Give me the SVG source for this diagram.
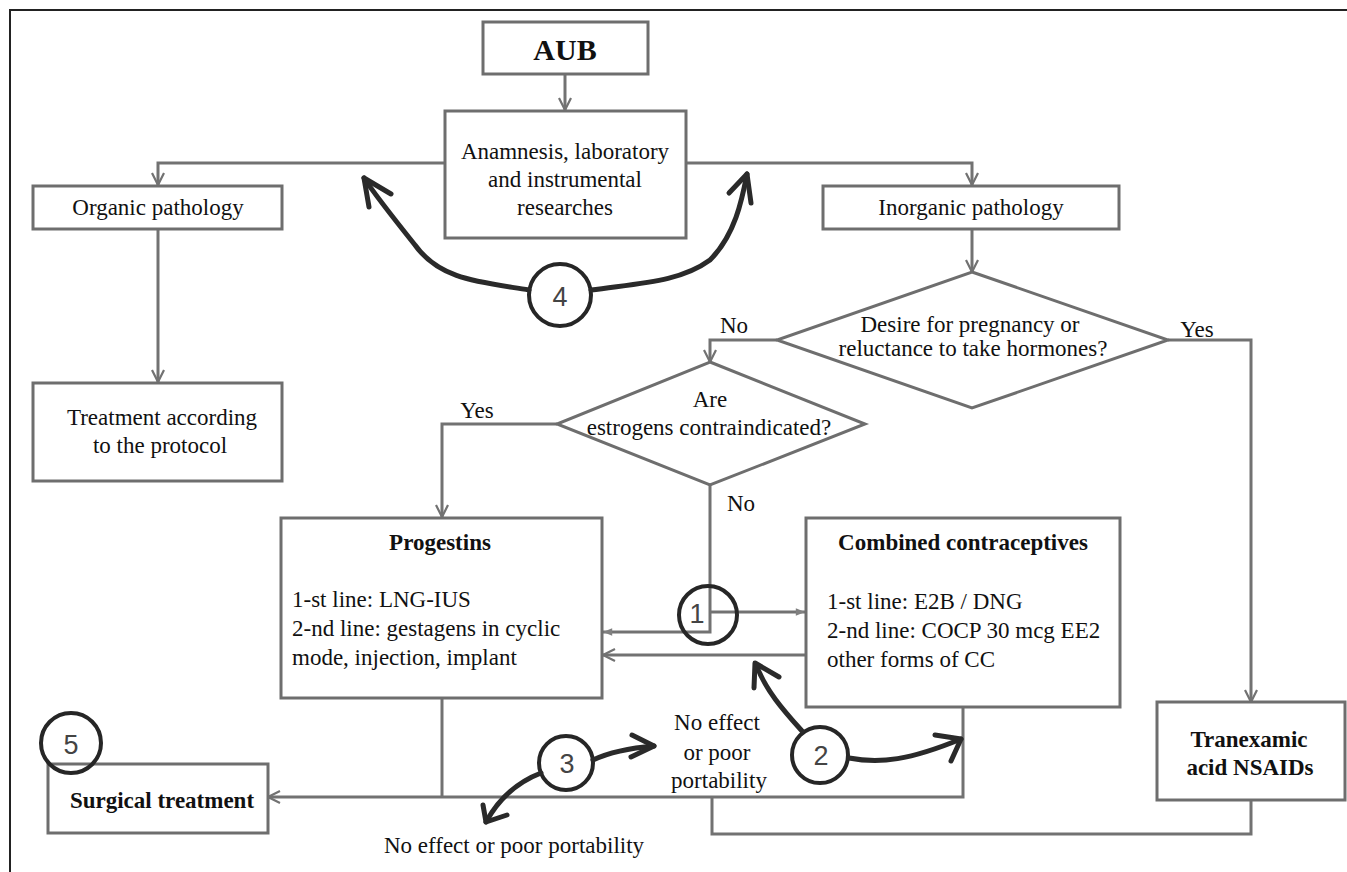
<svg xmlns="http://www.w3.org/2000/svg" width="1347" height="872" viewBox="0 0 1347 872">
<defs>
<style>
.box{fill:#fff;stroke:#6e6e6e;stroke-width:3}
.dia{fill:none;stroke:#6e6e6e;stroke-width:3}
.con{fill:none;stroke:#727272;stroke-width:3}
.t{font-family:"Liberation Serif","Times New Roman",serif;font-size:23px;fill:#111}
.c{text-anchor:middle}
.b{font-weight:bold}
.circ{fill:none;stroke:#262626;stroke-width:4}
.num{font-family:"Liberation Sans",Arial,sans-serif;font-size:27px;fill:#444;text-anchor:middle}
.curve{fill:none;stroke:#2a2a2a;stroke-width:5;stroke-linecap:round;stroke-linejoin:round}
</style>
<marker id="arr" viewBox="0 0 14 14" refX="13" refY="7" markerWidth="14" markerHeight="14" markerUnits="userSpaceOnUse" orient="auto">
<path d="M1,1 L13,7 L1,13" fill="none" stroke="#727272" stroke-width="2.2"/>
</marker>
<marker id="tri" viewBox="0 0 12 12" refX="11" refY="6" markerWidth="11" markerHeight="11" markerUnits="userSpaceOnUse" orient="auto">
<path d="M1,2 L11,6 L1,10 Z" fill="#808080"/>
</marker>
</defs>
<rect x="0" y="0" width="1347" height="872" fill="#fff"/>
<path d="M10,872 V10 H1347" fill="none" stroke="#222" stroke-width="2"/>

<g id="connectors">
<path class="con" d="M565,74 V110" marker-end="url(#arr)"/>
<path class="con" d="M445,163 H158 V185" marker-end="url(#arr)"/>
<path class="con" d="M686,163 H972 V185" marker-end="url(#arr)"/>
<path class="con" d="M158,229 V382" marker-end="url(#arr)"/>
<path class="con" d="M972,229 V272" marker-end="url(#arr)"/>
<path class="con" d="M777,340 H710 V362" marker-end="url(#arr)"/>
<path class="con" d="M1168,340 H1251 V702" marker-end="url(#arr)"/>
<path class="con" d="M557,424 H442 V517" marker-end="url(#arr)"/>
<path class="con" d="M710,485 V632 H603" marker-end="url(#tri)"/>
<path class="con" d="M710,612 H805" marker-end="url(#tri)"/>
<path class="con" d="M805,655 H603" marker-end="url(#arr)"/>
<path class="con" d="M442,698 V797"/>
<path class="con" d="M963,707 V797 H268" marker-end="url(#arr)"/>
<path class="con" d="M712,797 V834 H1251 V800"/>
</g>

<g id="aub"><rect class="box" x="483" y="22" width="165" height="52"/>
<text class="t c b" x="565" y="60" style="font-size:30px">AUB</text></g>

<g id="anamnesis"><rect class="box" x="445" y="111" width="241" height="127"/>
<text class="t c" x="565" y="159">Anamnesis, laboratory</text>
<text class="t c" x="565" y="187">and instrumental</text>
<text class="t c" x="565" y="215">researches</text></g>

<g id="organic"><rect class="box" x="33" y="186" width="249" height="43"/>
<text class="t c" x="158" y="215">Organic pathology</text></g>

<g id="inorganic"><rect class="box" x="823" y="186" width="296" height="43"/>
<text class="t c" x="971" y="215">Inorganic pathology</text></g>

<g id="treatment"><rect class="box" x="33" y="383" width="249" height="98"/>
<text class="t c" x="162" y="425">Treatment according</text>
<text class="t c" x="160" y="453">to the protocol</text></g>

<g id="desire"><path class="dia" d="M972,272 L1168,340 L972,408 L777,340 Z"/>
<text class="t c" x="970" y="332">Desire for pregnancy or</text>
<text class="t c" x="973" y="356">reluctance to take hormones?</text></g>

<g id="estrogens"><path class="dia" d="M710,362 L865,424 L710,485 L557,424 Z"/>
<text class="t c" x="710" y="407">Are</text>
<text class="t c" x="709" y="435">estrogens contraindicated?</text></g>

<g id="labels">
<text class="t c" x="734" y="333">No</text>
<text class="t c" x="1197" y="337">Yes</text>
<text class="t c" x="477" y="418">Yes</text>
<text class="t c" x="741" y="511">No</text>
</g>

<g id="progestins"><rect class="box" x="281" y="518" width="321" height="180"/>
<text class="t c b" x="440" y="550">Progestins</text>
<text class="t" x="292" y="607">1-st line: LNG-IUS</text>
<text class="t" x="292" y="636">2-nd line: gestagens in cyclic</text>
<text class="t" x="292" y="665">mode, injection, implant</text></g>

<g id="combined"><rect class="box" x="806" y="518" width="314" height="189"/>
<text class="t c b" x="963" y="550">Combined contraceptives</text>
<text class="t" x="827" y="609">1-st line: E2B / DNG</text>
<text class="t" x="827" y="638">2-nd line: COCP 30 mcg EE2</text>
<text class="t" x="827" y="667">other forms of CC</text></g>

<g id="tranexamic"><rect class="box" x="1157" y="702" width="188" height="98"/>
<text class="t c b" x="1249" y="747">Tranexamic</text>
<text class="t c b" x="1250" y="775">acid NSAIDs</text></g>

<g id="surgical"><rect class="box" x="48" y="764" width="220" height="69"/>
<text class="t c b" x="162" y="808">Surgical treatment</text></g>

<g id="noeffect1"><text class="t c" x="717" y="730">No effect</text>
<text class="t c" x="717" y="760">or poor</text>
<text class="t c" x="719" y="788">portability</text></g>
<g id="noeffect2"><text class="t c" x="514" y="853">No effect or poor portability</text></g>

<g id="circle1"><circle class="circ" cx="708" cy="615" r="29"/><text class="num" x="697" y="623">1</text></g>
<g id="circle2"><circle class="circ" cx="820" cy="755" r="28"/><text class="num" x="821" y="765">2</text>
<path class="curve" d="M802,731 C785,712 765,690 756,664"/>
<path class="curve" d="M754,688 L755,663 L779,677"/>
<path class="curve" d="M849,758 C880,764 910,760 961,739"/>
<path class="curve" d="M935,735 L961,739 L951,761"/></g>
<g id="circle3"><circle class="circ" cx="566" cy="763" r="27"/><text class="num" x="567" y="773">3</text>
<path class="curve" d="M593,760 C610,752 630,748 654,746"/>
<path class="curve" d="M632,735 L654,746 L631,757"/>
<path class="curve" d="M541,773 C515,783 498,800 486,822"/>
<path class="curve" d="M483,805 L486,822 L507,815"/></g>
<g id="circle4"><circle class="circ" cx="560" cy="295" r="31"/><text class="num" x="560" y="306">4</text>
<path class="curve" d="M529,290 C480,282 440,280 415,245 C395,220 375,195 364,178"/>
<path class="curve" d="M369,207 L364,178 L391,194"/>
<path class="curve" d="M591,290 C640,283 680,282 710,260 C735,235 742,200 747,174"/>
<path class="curve" d="M729,193 L747,174 L751,203"/></g>
<g id="circle5"><circle class="circ" cx="71" cy="743" r="30"/><text class="num" x="71" y="754">5</text></g>
</svg>
